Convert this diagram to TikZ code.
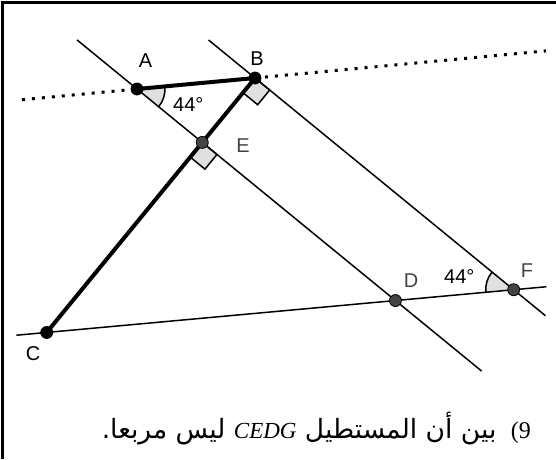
\documentclass[tikz,border=0pt]{standalone}
\usepackage{fontspec}
\setmainfont{Liberation Serif}
\newfontfamily\labelfont{Liberation Sans}
\newfontfamily\arabicfont[Script=Arabic]{DejaVu Sans}
\TeXXeTstate=1
\usetikzlibrary{calc, angles, positioning}
\definecolor{ptgray}{RGB}{68,68,68}
\definecolor{fillgray}{RGB}{224,224,224}
\tikzset{
  ln/.style={line width=1.5pt, draw=black},
  thk/.style={line width=4pt, draw=black, line cap=round, line join=round},
  dotln/.style={line width=3pt, dash pattern=on 3pt off 7pt},
  ptb/.style={circle, fill=black, draw=black, line width=0.8pt, inner sep=0pt, minimum size=12pt},
  ptg/.style={ptb, fill=ptgray},
  lbl/.style={font=\labelfont\fontsize{20}{24}\selectfont, inner sep=0pt},
  rgt/.style={draw=black, line width=1.5pt, fill=fillgray},
  ang/.style={draw=black, line width=1.5pt, fill=fillgray, angle radius=28pt},
  txt/.style={inner sep=0pt}
}

\begin{document}
\begin{tikzpicture}[x=1pt, y=1pt]
\useasboundingbox (0,0) rectangle (556,-459);
\draw[line width=3pt] (556,-2.5) -- (2.5,-2.5) -- (2.5,-459);

\coordinate (A) at (137,-89);
\coordinate (B) at (255,-78);
\coordinate (P) at ($(A)+(-39.3:100)$);
\coordinate (E) at ($(A)!(B)!(P)$);
\coordinate (C) at ($(B)!3.95!(E)$);
\coordinate (D) at ($(A)!3.96!(E)$);
\coordinate (G) at ($(B)+(E)-(A)$);
\coordinate (F) at (intersection of C--D and B--G);

\pic[ang] {angle=E--A--B};
\pic[ang] {angle=B--F--D};
\draw[rgt] (E) -- ($(E)!19pt!(D)$) -- ($(E)!19pt!(D) + (E)!19pt!(C) - (E)$) -- ($(E)!19pt!(C)$) -- cycle;
\draw[rgt] (B) -- ($(B)!19pt!(G)$) -- ($(B)!19pt!(G) + (B)!19pt!(C) - (B)$) -- ($(B)!19pt!(C)$) -- cycle;

\draw[ln] ($(A)!-0.92!(E)$) -- ($(A)!5.28!(E)$);
\draw[ln] ($(B)!-0.712!(G)$) -- ($(B)!4.45!(G)$);
\draw[ln] ($(C)!-0.065!(F)$) -- ($(C)!1.07!(F)$);
\draw[dotln] ($(A)!-0.975!(B)$) -- (A);
\draw[dotln] (B) -- ($(A)!3.466!(B)$);
\draw[thk] (A) -- (B) -- (C);

\node[ptb] (pA) at (A) {};
\node[ptb] (pB) at (B) {};
\node[ptb] (pC) at (C) {};
\node[ptg] (pE) at (E) {};
\node[ptg] (pD) at (D) {};
\node[ptg] (pF) at (F) {};

\node[lbl] (lA) at (145.5,-60.5) {A};
\node[lbl] (lB) at (257,-59) {B};
\node[lbl, text=ptgray] (lE) at (243,-146) {E};
\node[lbl, text=ptgray] (lD) at (411,-281) {D};
\node[lbl, text=ptgray] (lF) at (527,-271) {F};
\node[lbl] (lC) at (33,-354) {C};
\node[lbl, anchor=base west] (aA) at (173,-111.7) {44°};
\node[lbl, anchor=base west] (aF) at (444,-283) {44°};

\node[txt, anchor=base east, font=\fontsize{24}{28}\selectfont] (num) at (531,-438) {(9};
\node[txt, left=14pt of num.base west, anchor=base east] (task)
  {\arabicfont\fontsize{26.5}{30}\selectfont\beginR بين أن المستطيل \beginL{\rmfamily\itshape\fontsize{23}{27}\selectfont CEDG}\endL{} ليس مربعا.\endR};
\end{tikzpicture}
\end{document}
